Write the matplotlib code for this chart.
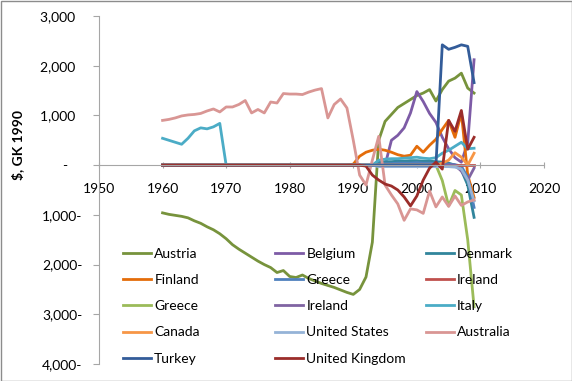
import matplotlib
matplotlib.use("Agg")
import matplotlib.pyplot as plt
from matplotlib.patches import Rectangle

plt.rcParams['font.family'] = ['Lato', 'DejaVu Sans']

years = list(range(1960, 2010))

# values, one per year 1960..2009
austria = [-960, -990, -1010, -1030, -1060, -1120, -1170, -1240, -1300, -1380,
           -1480, -1600, -1690, -1770, -1850, -1930, -2000, -2060, -2160, -2120,
           -2240, -2260, -2210, -2280, -2330, -2380, -2420, -2460, -2510, -2560,
           -2600, -2500, -2250, -1550, 500, 880, 1020, 1160, 1240, 1320,
           1400, 1450, 1520, 1290, 1520, 1690, 1750, 1850, 1550, 1450]
belgium = [0, 0, 0, 0, 0, 0, 0, 0, 0, 0,
           0, 0, 0, 0, 0, 0, 0, 0, 0, 0,
           0, 0, 0, 0, 0, 0, 0, 0, 0, 0,
           0, 0, 0, 0, 0, 0, 500, 600, 750, 1050,
           1480, 1280, 1040, 860, 560, 330, 150, 60, 450, 2120]
denmark = [0, 0, 0, 0, 0, 0, 0, 0, 0, 0,
           0, 0, 0, 0, 0, 0, 0, 0, 0, 0,
           0, 0, 0, 0, 0, 0, 0, 0, 0, 0,
           0, 0, 0, 0, 60, 70, 70, 80, 80, 90,
           90, 80, 80, 70, 60, 40, 0, -100, -400, -1050]
finland = [0, 0, 0, 0, 0, 0, 0, 0, 0, 0,
           0, 0, 0, 0, 0, 0, 0, 0, 0, 0,
           0, 0, 0, 0, 0, 0, 0, 0, 0, 0,
           20, 180, 260, 300, 320, 300, 260, 210, 180, 200,
           380, 260, 400, 520, 720, 900, 560, 1050, -200, -650]
greece = [0, 0, 0, 0, 0, 0, 0, 0, 0, 0,
          0, 0, 0, 0, 0, 0, 0, 0, 0, 0,
          0, 0, 0, 0, 0, 0, 0, 0, 0, 0,
          0, 0, 0, 0, 20, 30, 30, 40, 40, 40,
          50, 40, 40, 30, 30, 20, 10, -20, -250, -850]
ireland = [0, 0, 0, 0, 0, 0, 0, 0, 0, 0,
           0, 0, 0, 0, 0, 0, 0, 0, 0, 0,
           0, 0, 0, 0, 0, 0, 0, 0, 0, 0,
           0, 0, 0, 0, 0, 0, 0, 0, 0, 0,
           0, 0, 0, 0, 0, 0, 0, 0, 0, 0]
greece_2 = [0, 0, 0, 0, 0, 0, 0, 0, 0, 0,
            0, 0, 0, 0, 0, 0, 0, 0, 0, 0,
            0, 0, 0, 0, 0, 0, 0, 0, 0, 0,
            0, 0, 0, 0, 0, 0, 0, 0, 0, 0,
            0, 0, 0, 0, -310, -820, -510, -600, -1500, -2850]
ireland_2 = [0, 0, 0, 0, 0, 0, 0, 0, 0, 0,
             0, 0, 0, 0, 0, 0, 0, 0, 0, 0,
             0, 0, 0, 0, 0, 0, 0, 0, 0, 0,
             0, 0, 0, 0, 0, 0, 0, 0, 0, 0,
             0, 0, 0, 0, 0, 0, 0, -120, -300, -60]
italy = [540, 500, 460, 420, 540, 690, 750, 730, 770, 840,
         0, 0, 0, 0, 0, 0, 0, 0, 0, 0,
         0, 0, 0, 0, 0, 0, 0, 0, 0, 0,
         0, 0, 0, 0, 100, 120, 130, 130, 140, 150,
         160, 140, 130, 150, 240, 300, 380, 460, 330, 340]
canada = [0, 0, 0, 0, 0, 0, 0, 0, 0, 0,
          0, 0, 0, 0, 0, 0, 0, 0, 0, 0,
          0, 0, 0, 0, 0, 0, 0, 0, 0, 0,
          0, 0, 0, 0, 0, 0, 0, 0, 0, 0,
          0, 0, 0, 0, 40, 100, 250, 160, 0, 240]
united_states = [0, 0, 0, 0, 0, 0, 0, 0, 0, 0,
                 0, 0, 0, 0, 0, 0, 0, 0, 0, 0,
                 0, 0, 0, 0, 0, 0, 0, 0, 0, 0,
                 0, 0, 0, 0, -30, -30, -30, -30, -30, -30,
                 -30, -30, -30, -30, -30, -30, -40, -80, -300, -720]
australia = [900, 920, 950, 990, 1010, 1020, 1040, 1090, 1130, 1070,
             1170, 1170, 1220, 1300, 1050, 1120, 1050, 1270, 1250, 1440,
             1430, 1430, 1420, 1470, 1510, 1540, 950, 1220, 1330, 1150,
             500, -200, -400, 100, 580, -400, -600, -780, -1110, -880,
             -900, -970, -520, -840, -640, -830, -620, -810, -740, -700]
turkey = [0, 0, 0, 0, 0, 0, 0, 0, 0, 0,
          0, 0, 0, 0, 0, 0, 0, 0, 0, 0,
          0, 0, 0, 0, 0, 0, 0, 0, 0, 0,
          0, 0, 0, 0, 0, 0, 0, 0, 0, 0,
          0, 0, 0, 0, 2420, 2330, 2370, 2420, 2390, 1660]
united_kingdom = [0, 0, 0, 0, 0, 0, 0, 0, 0, 0,
                  0, 0, 0, 0, 0, 0, 0, 0, 0, 0,
                  0, 0, 0, 0, 0, 0, 0, 0, 0, 0,
                  0, 0, -20, -200, -300, -380, -420, -500, -640, -820,
                  -620, -300, -60, 60, -80, 900, 680, 1100, 320, 560]

names = ['Austria', 'Belgium', 'Denmark', 'Finland', 'Greece', 'Ireland', 'Greece',
         'Ireland', 'Italy', 'Canada', 'United States', 'Australia', 'Turkey',
         'United Kingdom']
series = [austria, belgium, denmark, finland, greece, ireland, greece_2, ireland_2,
          italy, canada, united_states, australia, turkey, united_kingdom]
colors = ['#77933C', '#7D5BA6', '#31859C', '#E46C0A', '#4F81BD', '#C0504D', '#9BBB59',
          '#8064A2', '#4BACC6', '#F79646', '#95B3D7', '#D99694', '#335C99', '#9B2D2A']

fig = plt.figure(figsize=(5.72, 3.81), dpi=100)
ax = fig.add_axes([99 / 572, 17 / 381, 445 / 572, 348 / 381])

lines = []
for vals, name, c in zip(series, names, colors):
    ln, = ax.plot(years, vals, color=c, lw=2, label=name, solid_joinstyle='round')
    lines.append(ln)

ax.set_xlim(1950, 2020)
ax.set_ylim(-4000, 3000)
ax.set_xticks(range(1950, 2021, 10))
ax.set_yticks(range(-4000, 3001, 1000))
ax.set_yticklabels(['4,000-', '3,000-', '2,000-', '1,000-', '-    ',
                    '1,000  ', '2,000  ', '3,000  '])

for s in ['top', 'right']:
    ax.spines[s].set_visible(False)
ax.spines['left'].set_color('#A6A6A6')
ax.spines['left'].set_linewidth(0.8)
ax.spines['bottom'].set_position(('data', 0))
ax.spines['bottom'].set_color('#A6A6A6')
ax.spines['bottom'].set_linewidth(0.8)
ax.spines['bottom'].set_linestyle((0, (1, 1)))

ax.tick_params(axis='x', direction='inout', length=5, color='#A6A6A6', pad=10, labelsize=10)
ax.tick_params(axis='y', direction='out', length=4, color='#A6A6A6', pad=8, labelsize=10)

fig.text(18 / 572, 1 - 145 / 381, '\\$, GK 1990', rotation=90, fontweight='bold',
         fontsize=10, ha='center', va='center')

# legend laid out row by row in three columns, like the original
cols = [[0, 3, 6, 9, 12], [1, 4, 7, 10, 13], [2, 5, 8, 11]]
col_x = [123, 275, 426]
for idx, x0 in zip(cols, col_x):
    leg = fig.legend([lines[i] for i in idx], [names[i] for i in idx],
                     loc='upper left', bbox_to_anchor=(x0 / 572, 1 - 248 / 381),
                     bbox_transform=fig.transFigure, frameon=False, borderpad=0,
                     borderaxespad=0, handlelength=2, handletextpad=0.25,
                     labelspacing=1.02, fontsize=10)

fig.patches.append(Rectangle((0.5 / 572, 0.5 / 381), 1 - 1 / 572, 1 - 1 / 381,
                             transform=fig.transFigure, fill=False,
                             edgecolor='#8C8C8C', lw=1))

fig.savefig('out.png', dpi=100)
